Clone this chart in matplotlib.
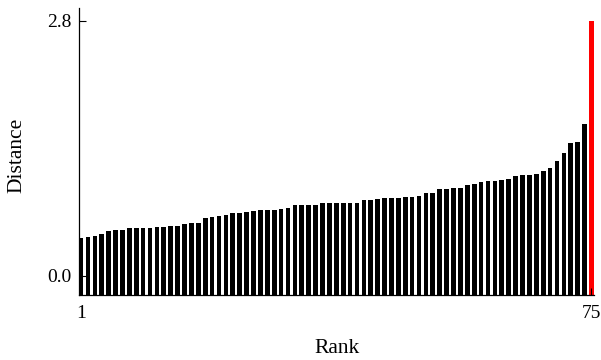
import numpy as np
import matplotlib
matplotlib.use("Agg")
import matplotlib.pyplot as plt

plt.rcParams['font.family'] = ['Liberation Serif', 'DejaVu Serif']

# Sorted distances, one per rank; the last one is the outlier
distances = [
    0.42, 0.43, 0.435, 0.46, 0.49, 0.50, 0.50, 0.52, 0.53, 0.53,
    0.53, 0.54, 0.54, 0.55, 0.55, 0.57, 0.58, 0.585, 0.635, 0.645,
    0.657, 0.673, 0.695, 0.695, 0.706, 0.715, 0.72, 0.72, 0.72, 0.73,
    0.74, 0.778, 0.778, 0.778, 0.778, 0.797, 0.80, 0.805, 0.805, 0.805,
    0.805, 0.83, 0.832, 0.84, 0.853, 0.853, 0.853, 0.864, 0.864, 0.88,
    0.91, 0.91, 0.95, 0.95, 0.96, 0.97, 0.995, 1.013, 1.025, 1.043,
    1.043, 1.054, 1.06, 1.098, 1.11, 1.11, 1.12, 1.153, 1.186, 1.263,
    1.347, 1.464, 1.47, 1.665, 2.8,
]
ranks = np.arange(1, len(distances) + 1)
outlier_rank = 75

y_ticks = [0.0, 2.8]
y_tick_labels = ["0.0", "2.8"]
x_ticks = [1, 75]
x_tick_labels = ["1", "75"]

y_low, y_high = -0.21, 2.94
bar_w = 0.68

fig = plt.figure(figsize=(6.01, 3.60), dpi=100)
ax = fig.add_axes([0.131, 0.1806, 0.857, 0.797])

vals = np.array(distances)
colors = ['#ff0000' if r == outlier_rank else 'black' for r in ranks]
ax.bar(ranks, vals - y_low, bottom=y_low, width=bar_w, color=colors,
       linewidth=0)

ax.set_xlim(1 - bar_w / 2, len(distances) + bar_w / 2)
ax.set_ylim(y_low, y_high)

ax.set_yticks(y_ticks)
ax.set_yticklabels(y_tick_labels)
ax.set_xticks(x_ticks)
ax.set_xticklabels(x_tick_labels)

for side in ('top', 'right'):
    ax.spines[side].set_visible(False)
for side in ('left', 'bottom'):
    ax.spines[side].set_linewidth(0.9)
    ax.spines[side].set_color('black')

ax.tick_params(axis='both', direction='in', length=4.8, width=0.8,
               labelsize=14, colors='black')
ax.tick_params(axis='y', pad=5)
ax.tick_params(axis='x', pad=7)

ax.set_xlabel("Rank", fontsize=15.5, va='center')
ax.set_ylabel("Distance", fontsize=15.5, va='center')
ax.xaxis.set_label_coords(0.502, -0.188)
ax.yaxis.set_label_coords(-0.12, 0.488)

fig.savefig("out.png", dpi=100)
